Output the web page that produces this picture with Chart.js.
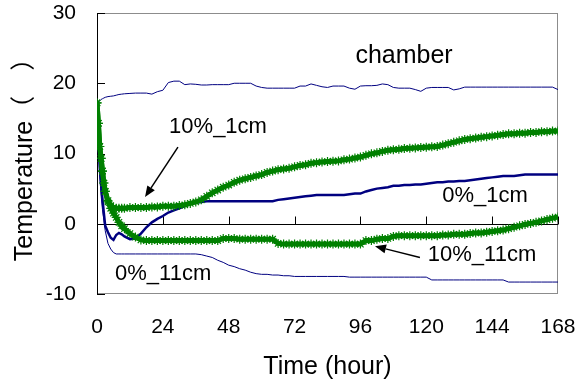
<!DOCTYPE html>
<html><head><meta charset="utf-8">
<script src="https://cdn.jsdelivr.net/npm/chart.js@4/dist/chart.umd.min.js"></script>
<style>html,body{margin:0;padding:0;background:#fff;overflow:hidden}#wrap{width:588px;height:385px;position:relative}</style>
</head><body><div id="wrap"><canvas id="c" width="588" height="385"></canvas></div>
<script>
// time axis (hours)
const hours = [0,0.5,1,1.5,2,2.5,3,4,5,6,7,8,9,10,
  12,14,16,18,20,22,24,26,28,30,
  32,34,36,38,40,42,44,46,48,50,
  52,54,56,58,60,62,64,66,68,70,
  72,74,76,78,80,82,84,86,88,90,
  92,94,96,98,100,102,104,106,108,110,
  112,114,116,118,120,122,124,126,128,130,
  132,134,136,138,140,142,144,146,148,150,
  152,154,156,158,160,162,164,166,168];

const chamber = [17.0,17.3,17.5,17.7,17.8,17.9,18.0,18.1,18.15,18.2,18.3,18.4,18.45,18.5,
  18.55,18.6,18.6,18.6,18.45,18.8,19.0,20.1,20.3,20.3,
  19.8,19.9,19.85,19.75,19.75,19.8,19.8,19.8,19.8,20.0,
  20.0,20.0,20.0,19.6,19.4,19.3,19.3,19.3,19.3,19.3,
  19.3,19.6,19.6,19.9,19.7,19.5,19.4,19.6,19.6,19.6,
  19.3,19.15,19.6,19.65,19.65,19.7,19.9,19.8,19.4,19.3,
  19.3,19.3,19.1,18.85,19.3,19.4,19.4,19.4,19.4,19.05,
  19.2,19.45,19.45,19.45,19.45,19.45,19.45,19.45,19.45,19.45,
  19.45,19.45,19.45,19.45,19.45,19.45,19.45,19.45,19.1];

const pct0_1cm = [17.0,12.0,8.0,5.5,3.5,1.5,-0.3,-1.2,-2.0,-2.3,-1.6,-1.3,-1.5,-1.8,
  -2.2,-2.1,-1.4,-0.5,0.2,0.7,1.1,1.6,1.9,2.2,
  2.5,2.8,3.0,3.1,3.2,3.2,3.2,3.2,3.2,3.2,
  3.2,3.2,3.2,3.2,3.2,3.2,3.2,3.4,3.5,3.6,
  3.7,3.8,3.9,4.0,4.1,4.1,4.1,4.1,4.1,4.1,
  4.2,4.3,4.3,4.6,4.8,5.0,5.1,5.2,5.4,5.4,
  5.5,5.5,5.6,5.6,5.7,5.8,5.9,5.9,6.0,6.0,
  6.1,6.1,6.2,6.3,6.4,6.5,6.6,6.7,6.8,6.8,
  6.8,6.9,7.0,7.0,7.0,7.0,7.0,7.0,7.0];

const pct0_11cm = [17.0,12.0,7.0,4.0,2.0,0.5,-1.0,-2.8,-3.6,-4.1,-4.3,-4.3,-4.3,-4.3,
  -4.3,-4.3,-4.3,-4.3,-4.3,-4.3,-4.3,-4.3,-4.3,-4.3,
  -4.3,-4.3,-4.3,-4.4,-4.6,-4.8,-5.2,-5.5,-5.9,-6.1,
  -6.4,-6.6,-6.9,-7.1,-7.2,-7.2,-7.3,-7.3,-7.4,-7.4,
  -7.5,-7.5,-7.5,-7.5,-7.5,-7.5,-7.5,-7.5,-7.5,-7.5,
  -7.6,-7.6,-7.6,-7.6,-7.6,-7.6,-7.6,-7.6,-7.6,-7.6,
  -7.6,-7.6,-7.6,-7.6,-7.6,-8.0,-8.0,-8.0,-8.0,-8.0,
  -8.0,-8.0,-8.0,-8.0,-8.0,-8.0,-8.0,-8.0,-8.0,-8.3,
  -8.3,-8.3,-8.3,-8.3,-8.3,-8.3,-8.3,-8.3,-8.3];

const pct10_1cm = [17.2,14.3,11.0,9.3,7.5,5.8,4.6,3.3,2.6,2.3,2.2,2.2,2.2,2.2,
  2.3,2.3,2.3,2.3,2.4,2.4,2.5,2.5,2.5,2.6,
  2.7,2.9,3.1,3.4,3.9,4.4,4.8,5.2,5.5,5.9,
  6.2,6.4,6.6,6.8,7.0,7.3,7.5,7.7,7.8,7.9,
  8.1,8.3,8.4,8.6,8.7,8.8,8.85,8.9,8.95,9.1,
  9.2,9.35,9.5,9.75,9.95,10.1,10.3,10.45,10.55,10.6,
  10.7,10.75,10.8,10.85,10.9,10.95,11.0,11.2,11.4,11.6,
  11.8,12.0,12.1,12.2,12.3,12.4,12.5,12.6,12.7,12.8,
  12.8,12.9,12.9,13.0,13.0,13.1,13.1,13.2,13.2];

const pct10_11cm = [17.2,14.3,11.0,9.3,7.5,5.8,4.6,3.1,2.2,1.5,0.9,0.2,-0.3,-0.7,
  -1.4,-1.9,-2.3,-2.4,-2.4,-2.4,-2.4,-2.4,-2.4,-2.4,
  -2.4,-2.4,-2.4,-2.4,-2.4,-2.4,-2.4,-2.1,-2.1,-2.1,
  -2.2,-2.2,-2.2,-2.2,-2.2,-2.2,-2.2,-2.8,-2.9,-2.9,
  -2.9,-2.9,-2.9,-2.9,-2.9,-2.9,-2.9,-2.9,-2.9,-2.9,
  -2.9,-2.9,-2.9,-2.4,-2.4,-2.2,-2.1,-2.1,-1.8,-1.7,
  -1.7,-1.7,-1.7,-1.7,-1.7,-1.7,-1.7,-1.6,-1.6,-1.5,
  -1.5,-1.5,-1.4,-1.3,-1.3,-1.2,-1.1,-1.0,-0.9,-0.7,
  -0.5,-0.3,-0.1,0.05,0.2,0.4,0.6,0.8,0.95];

const xTickValues = [0,24,48,72,96,120,144,168];
const yTickValues = [-10,0,10,20,30];

const FONT = "'Liberation Sans', Arial, 'Noto Sans CJK JP', sans-serif";
const NAVY = '#000080';
const GREEN = '#008000';

const pts = arr => hours.map((h,i)=>({x:h,y:arr[i]}));

const frame = {
  id:'frame',
  beforeDatasetsDraw(chart){
    const {ctx, chartArea:a, scales:{x,y}} = chart;
    ctx.save();
    ctx.lineWidth = 1;
    ctx.strokeStyle = '#8c8c8c';
    ctx.strokeRect(a.left+0.5, a.top+0.5, a.right-a.left-1, a.bottom-a.top-1);
    ctx.strokeStyle = '#000';
    ctx.beginPath();
    ctx.moveTo(a.left+0.5, a.top); ctx.lineTo(a.left+0.5, a.bottom);
    yTickValues.forEach(v=>{
      const py = Math.round(y.getPixelForValue(v))+0.5;
      ctx.moveTo(a.left, py); ctx.lineTo(a.left+8, py);
    });
    const y0 = Math.round(y.getPixelForValue(0))+0.5;
    ctx.moveTo(a.left, y0); ctx.lineTo(a.right, y0);
    xTickValues.forEach(v=>{
      if (v===0) return;
      const px = Math.round(x.getPixelForValue(v))+0.5;
      ctx.moveTo(px, y0); ctx.lineTo(px, y0-8);
    });
    ctx.stroke();
    ctx.restore();
  }
};

const notes = [
  {text:'chamber', x:111.9, y:23.8, size:25},
  {text:'10%_1cm', x:44.1, y:13.8, size:22, arrow:[29.5,10.9,17.5,3.8]},
  {text:'0%_1cm', x:141.4, y:4.0, size:22},
  {text:'10%_11cm', x:140.3, y:-4.5, size:22, arrow:[117.7,-4.8,101.3,-3.2]},
  {text:'0%_11cm', x:24.1, y:-7.1, size:22}
];

const annot = {
  id:'annot',
  afterDatasetsDraw(chart){
    const {ctx, scales:{x,y}} = chart;
    ctx.save();
    ctx.fillStyle = '#000';
    ctx.strokeStyle = '#000';
    ctx.textAlign = 'center';
    ctx.textBaseline = 'middle';
    notes.forEach(n=>{
      ctx.font = n.size + 'px ' + FONT;
      ctx.fillText(n.text, x.getPixelForValue(n.x), y.getPixelForValue(n.y));
      if (n.arrow){
        const x1=x.getPixelForValue(n.arrow[0]), y1=y.getPixelForValue(n.arrow[1]);
        const x2=x.getPixelForValue(n.arrow[2]), y2=y.getPixelForValue(n.arrow[3]);
        const ang = Math.atan2(y2-y1, x2-x1);
        const L = 11, W = 4.5;
        const bx = x2 - L*Math.cos(ang), by = y2 - L*Math.sin(ang);
        ctx.lineWidth = 1.5;
        ctx.beginPath(); ctx.moveTo(x1,y1); ctx.lineTo(bx,by); ctx.stroke();
        ctx.beginPath();
        ctx.moveTo(x2,y2);
        ctx.lineTo(bx + W*Math.sin(ang), by - W*Math.cos(ang));
        ctx.lineTo(bx - W*Math.sin(ang), by + W*Math.cos(ang));
        ctx.closePath(); ctx.fill();
      }
    });
    ctx.restore();
  }
};

const greenStyle = {
  borderColor: GREEN, backgroundColor: GREEN, borderWidth: 5,
  pointStyle: 'star', pointRadius: 4.5, pointBorderWidth: 1.2,
  pointBorderColor: GREEN, pointBackgroundColor: GREEN, tension: 0
};

const noPad = s => { s.paddingTop = 0; s.paddingBottom = 0; s.paddingLeft = 0; s.paddingRight = 0; };

new Chart(document.getElementById('c'), {
  type: 'line',
  data: {
    datasets: [
      Object.assign({label:'10%_1cm', data: pts(pct10_1cm)}, greenStyle),
      Object.assign({label:'10%_11cm', data: pts(pct10_11cm)}, greenStyle),
      {label:'0%_1cm', data: pts(pct0_1cm), borderColor: NAVY, borderWidth: 2.5, pointRadius: 0, tension: 0},
      {label:'0%_11cm', data: pts(pct0_11cm), borderColor: NAVY, borderWidth: 1, pointRadius: 0, tension: 0},
      {label:'chamber', data: pts(chamber), borderColor: NAVY, borderWidth: 1, pointRadius: 0, tension: 0}
    ]
  },
  options: {
    responsive: false, animation: false, devicePixelRatio: 1,
    layout: {padding: {top: 13, right: 30, left: 0, bottom: 0}},
    plugins: {legend: {display: false}, tooltip: {enabled: false}},
    scales: {
      x: {
        type: 'linear', min: 0, max: 168,
        afterFit: s => { s.height = 91; noPad(s); },
        grid: {display: false, drawTicks: false},
        border: {display: false},
        ticks: {stepSize: 24, padding: 23, color: '#000', font: {family: FONT, size: 21, lineHeight: 1}, maxRotation: 0},
        title: {display: true, text: 'Time (hour)', color: '#000', font: {family: FONT, size: 25, lineHeight: 1}, padding: {top: 0, bottom: 5}}
      },
      y: {
        min: -10, max: 30,
        afterFit: s => { s.width = 97; noPad(s); },
        grid: {display: false, drawTicks: false},
        border: {display: false},
        ticks: {stepSize: 10, padding: 21, color: '#000', font: {family: FONT, size: 21, lineHeight: 1}},
        title: {display: true, text: 'Temperature\uFF08\u3000\uFF09', color: '#000', font: {family: FONT, size: 25, lineHeight: 1}, padding: {top: 13, bottom: 0}}
      }
    }
  },
  plugins: [frame, annot]
});
</script>
</body></html>
